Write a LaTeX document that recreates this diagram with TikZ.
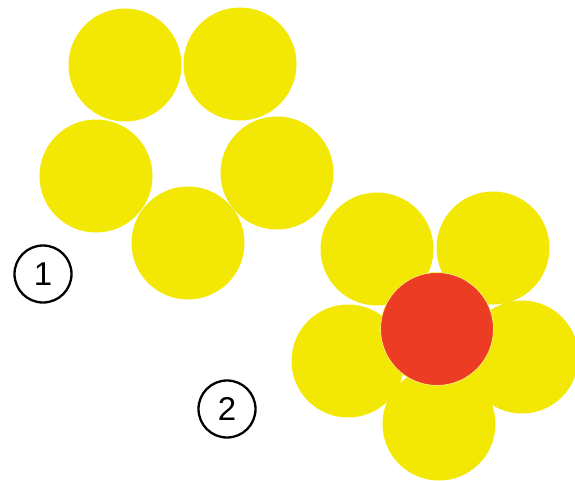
\documentclass[tikz,border=0pt]{standalone}
\usepackage{fontspec}
\setmainfont{Liberation Sans}
\definecolor{petal}{RGB}{243,231,4}
\definecolor{core}{RGB}{236,60,35}
\tikzset{
  petalnode/.style={circle, fill=petal, inner sep=0pt, minimum size=113pt},
  corenode/.style={circle, fill=core, draw=petal!60!white, line width=0.8pt, inner sep=0pt, minimum size=113pt},
  numlabel/.style={circle, draw=black, line width=2.3pt, inner sep=0pt, minimum size=57pt, font=\fontsize{33}{33}\selectfont}
}
\begin{document}
\begin{tikzpicture}[x=1pt,y=-1pt]
\useasboundingbox (0,0) rectangle (575,480);
% flower 1
\node[petalnode] (a1) at (125,65) {};
\node[petalnode] (a2) at (240,64) {};
\node[petalnode] (a3) at (96,176) {};
\node[petalnode] (a4) at (277,173) {};
\node[petalnode] (a5) at (188,243) {};
% flower 2
\node[petalnode] (b1) at (377,249) {};
\node[petalnode] (b2) at (493,248) {};
\node[petalnode] (b3) at (348,361) {};
\node[petalnode] (b4) at (522,357) {};
\node[petalnode] (b5) at (439,424) {};
\node[corenode] (c) at (437,329) {};
% labels
\node[numlabel] (n1) at (43,274) {1};
\node[numlabel] (n2) at (227,409) {2};
\end{tikzpicture}
\end{document}
